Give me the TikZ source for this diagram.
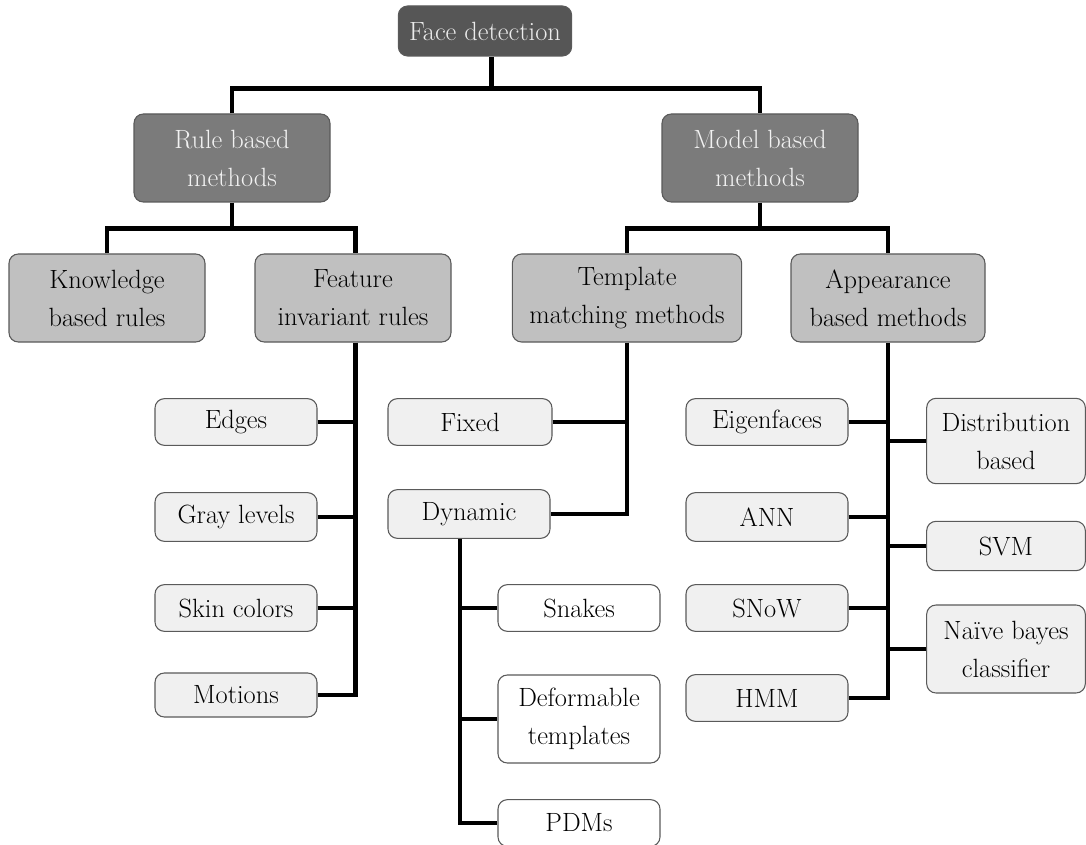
\documentclass[tikz,border=0pt]{standalone}
\usepackage{tikz}
\usetikzlibrary{positioning}
\definecolor{topgray}{HTML}{565656}
\definecolor{midgray}{HTML}{7B7B7B}
\definecolor{catgray}{HTML}{C0C0C0}
\definecolor{leafgray}{HTML}{F0F0F0}
\definecolor{edgegray}{HTML}{5A5A5A}
\begin{document}
\begin{tikzpicture}
    [x=0.75pt,y=-0.75pt,
     box/.style={rectangle,rounded corners=7pt,draw=edgegray,line width=0.8pt,
       align=center,inner sep=0pt,font=\fontsize{19.8}{28.5}\selectfont},
     top/.style={box,fill=topgray,text=white!92!black,minimum width=130pt,minimum height=37.5pt},
     mid/.style={box,fill=midgray,text=white!95!black,minimum width=147pt,minimum height=66pt},
     cat/.style={box,fill=catgray,minimum width=147pt,minimum height=66pt},
     leaf/.style={box,fill=leafgray,minimum width=121.5pt,minimum height=35pt},
     sub/.style={box,fill=white,minimum width=121.5pt,minimum height=35pt},
     conn/.style={line width=3.3pt}]

    \fill[white] (0,0) rectangle (1086,845);
    \useasboundingbox (0,0) rectangle (1086,845);

    \node[top] (face) at (485,31) {Face detection};

    \node[mid] (rule) at (232,158) {Rule based\\methods};
    \node[mid] (model) at (760,158) {Model based\\methods};

    \node[cat] (know) at (107,298) {Knowledge\\based rules};
    \node[cat] (feat) at (353,298) {Feature\\invariant rules};
    \node[cat,minimum width=172pt] (templ) at (627,298) {Template\\matching methods};
    \node[cat,minimum width=145.5pt] (appear) at (888,298) {Appearance\\based methods};

    % feature invariant rules
    \node[leaf] (edges) at (236,422) {Edges};
    \node[leaf,minimum height=36.5pt] (gray) at (236,517) {Gray levels};
    \node[leaf] (skin) at (236,608) {Skin colors};
    \node[leaf,minimum height=33pt] (motions) at (236,695) {Motions};

    % template matching methods
    \node[leaf,minimum width=123pt] (fixed) at (470,422) {Fixed};
    \node[leaf,minimum height=36.5pt] (dynamic) at (469,514) {Dynamic};
    \node[sub] (snakes) at (579,608) {Snakes};
    \node[sub,minimum height=66pt] (deform) at (579,719) {Deformable\\templates};
    \node[sub] (pdms) at (579,823) {PDMs};

    % appearance based methods
    \node[leaf] (eigen) at (767,422) {Eigenfaces};
    \node[leaf,minimum height=36.5pt] (ann) at (767,517) {ANN};
    \node[leaf] (snow) at (767,608) {SNoW};
    \node[leaf] (hmm) at (767,698) {HMM};
    \node[leaf,minimum width=119pt,minimum height=64pt] (distr) at (1006,441) {Distribution\\based};
    \node[leaf,minimum width=119pt,minimum height=37pt] (svm) at (1006,546) {SVM};
    \node[leaf,minimum width=119pt,minimum height=66pt] (naive) at (1006,649) {Naïve bayes\\classifier};

    % tree connectors
    \draw[conn] ([xshift=5pt]face.south) -- ++(0,32) coordinate (j0);
    \draw[conn] (rule.north) |- (j0) -| (model.north);
    \draw[conn] (rule.south) -- ++(0,26) coordinate (j1);
    \draw[conn] (know.north) |- (j1) -| ([xshift=2pt]feat.north);
    \draw[conn] (model.south) -- ++(0,26) coordinate (j2);
    \draw[conn] (templ.north) |- (j2) -| (appear.north);

    \draw[conn] ([xshift=2pt]feat.south) |- (motions.east);
    \draw[conn] (edges.east) -- ([xshift=2pt]edges.east -| feat.south);
    \draw[conn] (gray.east) -- ([xshift=2pt]gray.east -| feat.south);
    \draw[conn] (skin.east) -- ([xshift=2pt]skin.east -| feat.south);

    \draw[conn] (templ.south) |- (dynamic.east);
    \draw[conn] (fixed.east) -- (fixed.east -| templ.south);

    \draw[conn] ([xshift=-6.75pt]dynamic.south) |- (pdms.west);
    \draw[conn] ([xshift=-6.75pt]dynamic.south |- snakes.west) -- (snakes.west);
    \draw[conn] ([xshift=-6.75pt]dynamic.south |- deform.west) -- (deform.west);

    \draw[conn] (appear.south) |- (hmm.east);
    \draw[conn] (eigen.east) -- (eigen.east -| appear.south);
    \draw[conn] (ann.east) -- (ann.east -| appear.south);
    \draw[conn] (snow.east) -- (snow.east -| appear.south);
    \draw[conn] (appear.south |- distr.west) -- (distr.west);
    \draw[conn] (appear.south |- svm.west) -- (svm.west);
    \draw[conn] (appear.south |- naive.west) -- (naive.west);
\end{tikzpicture}
\end{document}
